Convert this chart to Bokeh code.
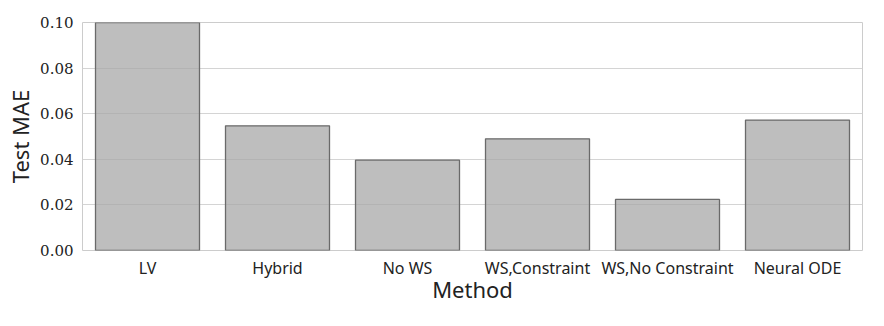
from bokeh.plotting import figure
from bokeh.models import Range1d, FixedTicker, NumeralTickFormatter
from bokeh.embed import file_html
from bokeh.resources import INLINE

methods = ["LV", "Hybrid", "No WS", "WS,Constraint", "WS,No Constraint", "Neural ODE"]
test_mae = [0.13, 0.0547, 0.0396, 0.0490, 0.0224, 0.0572]
y_ticks = [0.0, 0.02, 0.04, 0.06, 0.08, 0.10]

p = figure(x_range=methods, y_range=Range1d(0, 0.1), width=876, height=318,
           output_backend="svg", toolbar_location=None,
           min_border_left=82, min_border_right=14, min_border_top=22, min_border_bottom=68)

p.vbar(x=methods, top=test_mae, width=0.8, fill_color="#a8a8a8", fill_alpha=0.75,
       line_color="#6a6a6a", line_width=1.3)

p.outline_line_color = "#cccccc"
p.outline_line_width = 1
p.xgrid.grid_line_color = None
p.ygrid.grid_line_color = "#d4d4d4"
p.ygrid.grid_line_width = 1
p.yaxis.ticker = FixedTicker(ticks=y_ticks)
p.yaxis.formatter = NumeralTickFormatter(format="0.00")

for ax in (p.xaxis[0], p.yaxis[0]):
    ax.axis_line_color = None
    ax.major_tick_line_color = None
    ax.minor_tick_line_color = None
    ax.major_tick_out = 0
    ax.major_tick_in = 0
    ax.major_label_text_color = "#222222"
    ax.axis_label_text_color = "#222222"
    ax.axis_label_text_font_style = "normal"

p.yaxis.major_label_text_font = "DejaVu Serif"
p.yaxis.major_label_text_font_size = "15px"
p.yaxis.major_label_standoff = 9
p.yaxis.axis_label = "Test MAE"
p.yaxis.axis_label_text_font = "Noto Sans"
p.yaxis.axis_label_text_font_size = "22px"
p.yaxis.axis_label_standoff = 2

p.xaxis.major_label_text_font = "Noto Sans"
p.xaxis.major_label_text_font_size = "16px"
p.xaxis.major_label_standoff = 6
p.xaxis.axis_label = "Method"
p.xaxis.axis_label_text_font = "Noto Sans"
p.xaxis.axis_label_text_font_size = "22px"
p.xaxis.axis_label_standoff = -8

open("out.html", "w").write(file_html(p, INLINE))
